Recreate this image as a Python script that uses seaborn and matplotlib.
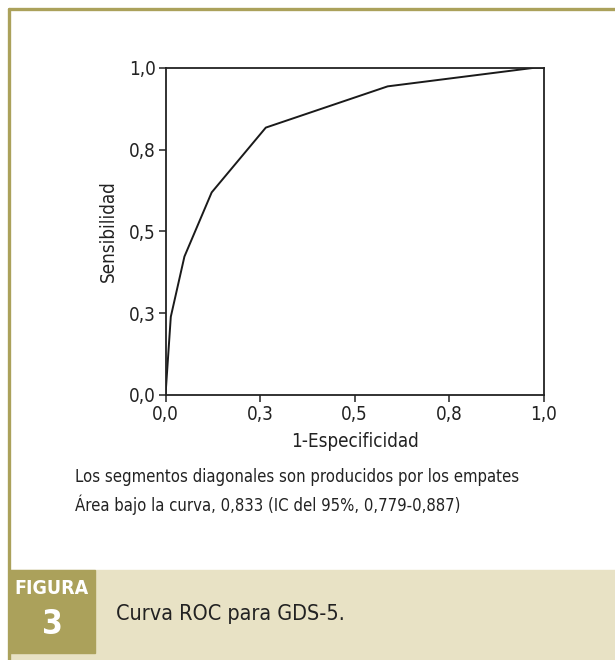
import numpy as np
import pandas as pd
import seaborn as sns
import matplotlib.pyplot as plt
from matplotlib.patches import Rectangle
from matplotlib.lines import Line2D

# ROC curve points
fpr = [0.0, 0.014, 0.050, 0.122, 0.265, 0.587, 0.976, 1.0]
tpr = [0.0, 0.239, 0.423, 0.619, 0.817, 0.943, 1.0, 1.0]

tick_pos = [0.0, 0.25, 0.5, 0.75, 1.0]
tick_labels = ["0,0", "0,3", "0,5", "0,8", "1,0"]

notes = ["Los segmentos diagonales son producidos por los empates",
         "Área bajo la curva, 0,833 (IC del 95%, 0,779-0,887)"]
caption = "Curva ROC para GDS-5."

sns.set_style("white")
plt.rcParams['font.family'] = ['DejaVu Sans']
plt.rcParams['font.stretch'] = 'condensed'

olive = "#aba15b"
beige = "#e8e2c5"

fig = plt.figure(figsize=(6.15, 6.6), dpi=100)
W, H = 615, 660

# frame and caption band
fig.patches.append(Rectangle((10 / W, 0), 1, 90 / H, transform=fig.transFigure,
                             color=beige, zorder=0))
fig.patches.append(Rectangle((10 / W, 7 / H), 85 / W, 83 / H, transform=fig.transFigure,
                             color=olive, zorder=1))
fig.lines.append(Line2D([8.5 / W, 1], [1 - 8.5 / H, 1 - 8.5 / H], transform=fig.transFigure,
                        color=olive, lw=2.4))
fig.lines.append(Line2D([8.5 / W, 8.5 / W], [0, 1 - 8.5 / H], transform=fig.transFigure,
                        color=olive, lw=2.4))

ax = fig.add_axes([165.5 / W, 1 - 395 / H, (544 - 165.5) / W, (395 - 67.7) / H])
df = pd.DataFrame({"fpr": fpr, "tpr": tpr})
sns.lineplot(data=df, x="fpr", y="tpr", sort=False, estimator=None,
             color="#1a1a1a", lw=1.4, ax=ax)

ax.set_xlim(0, 1)
ax.set_ylim(0, 1)
ax.set_xticks(tick_pos)
ax.set_xticklabels(tick_labels)
ax.set_yticks(tick_pos)
ax.set_yticklabels(tick_labels)
ax.tick_params(direction="out", length=5, width=1.1, color="#222222",
               labelsize=13.5, labelcolor="#222222", bottom=True, left=True, pad=2)
for s in ax.spines.values():
    s.set_color("#222222")
    s.set_linewidth(1.3)
ax.set_xlabel("1-Especificidad", fontsize=13.5, color="#222222", labelpad=6)
ax.set_ylabel("Sensibilidad", fontsize=13.5, color="#222222", labelpad=8)

fig.text(75 / W, 1 - 477 / H, notes[0], fontsize=12, color="#222222", va="center")
fig.text(75 / W, 1 - 505 / H, notes[1], fontsize=12, color="#222222", va="center")

fig.text(52 / W, 1 - 588 / H, "FIGURA", fontsize=14, color="white", weight="bold",
         ha="center", va="center")
fig.text(52 / W, 1 - 625 / H, "3", fontsize=24, color="white", weight="bold",
         ha="center", va="center")
fig.text(116 / W, 1 - 614 / H, caption, fontsize=15.5, color="#222222", va="center")

fig.savefig("out.png", dpi=100)
